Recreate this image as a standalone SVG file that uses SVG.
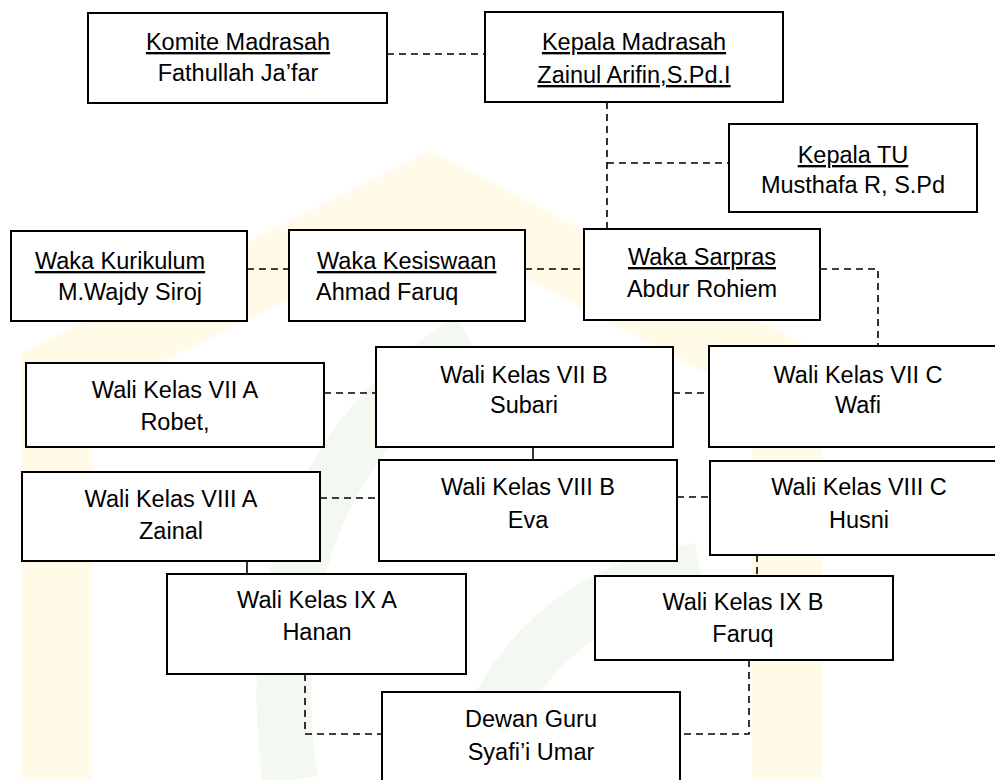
<svg xmlns="http://www.w3.org/2000/svg" width="995" height="780" viewBox="0 0 995 780">
<style>
.box{fill:#fff;stroke:#000;stroke-width:2}
.t{font-family:"Liberation Sans",Arial,sans-serif;font-size:23.5px;fill:#000;text-anchor:middle}
.s{text-anchor:start}
.u{text-decoration:underline}
.dash{fill:none;stroke:#000;stroke-width:1.6;stroke-dasharray:7 5}
.solid{fill:none;stroke:#000;stroke-width:1.6}
.wm-y{fill:none;stroke:#fffbe8;stroke-width:70}
.wm-g{fill:none;stroke:#f3f9f0;stroke-width:55}
</style>
<rect width="995" height="780" fill="#fff"/>
<g id="watermark">
<polyline class="wm-y" points="57,780 57,375 430,190 787,375 787,780"/>
<path class="wm-g" d="M470 340 Q 250 480 290 780"/>
<path class="wm-g" d="M700 570 Q 520 600 470 780"/>
</g>
<g id="connectors">
<path class="dash" d="M387 54 H485"/>
<path class="dash" d="M607 102 V229"/>
<path class="dash" d="M607 163 H729"/>
<path class="dash" d="M247 269 H289"/>
<path class="dash" d="M525 269 H584"/>
<path class="dash" d="M820 269 H878 V346"/>
<path class="dash" d="M324 393 H376"/>
<path class="dash" d="M673 393 H709"/>
<path class="solid" d="M533 447 V460"/>
<path class="dash" d="M320 498 H379"/>
<path class="dash" d="M677 497 H710"/>
<path class="solid" d="M247 561 V574"/>
<path class="dash" d="M757 555 V576"/>
<path class="dash" d="M305 674 V734 H382"/>
<path class="dash" d="M749 660 V734 H680"/>
</g>
<g id="komite">
<rect class="box" x="88" y="13" width="299" height="90"/>
<text class="t u" x="238" y="50">Komite Madrasah</text>
<text class="t" x="238" y="81">Fathullah Ja’far</text>
</g>
<g id="kepala">
<rect class="box" x="485" y="12" width="298" height="90"/>
<text class="t u" x="634" y="50">Kepala Madrasah</text>
<text class="t u" x="634" y="83">Zainul Arifin,S.Pd.I</text>
</g>
<g id="kepala-tu">
<rect class="box" x="729" y="124" width="248" height="88"/>
<text class="t u" x="853" y="163">Kepala TU</text>
<text class="t" x="853" y="193">Musthafa R, S.Pd</text>
</g>
<g id="waka-kurikulum">
<rect class="box" x="11" y="231" width="236" height="90"/>
<text class="t u" x="120" y="269">Waka Kurikulum</text>
<text class="t" x="130" y="300">M.Wajdy Siroj</text>
</g>
<g id="waka-kesiswaan">
<rect class="box" x="289" y="230" width="236" height="91"/>
<text class="t s u" x="317" y="269">Waka Kesiswaan</text>
<text class="t s" x="316" y="300">Ahmad Faruq</text>
</g>
<g id="waka-sarpras">
<rect class="box" x="584" y="229" width="236" height="91"/>
<text class="t u" x="702" y="265">Waka Sarpras</text>
<text class="t" x="702" y="297">Abdur Rohiem</text>
</g>
<g id="wali-7a">
<rect class="box" x="26" y="363" width="298" height="84"/>
<text class="t" x="175" y="398">Wali Kelas VII A</text>
<text class="t" x="175" y="430">Robet,</text>
</g>
<g id="wali-7b">
<rect class="box" x="376" y="347" width="297" height="100"/>
<text class="t" x="524" y="383">Wali Kelas VII B</text>
<text class="t" x="524" y="413">Subari</text>
</g>
<g id="wali-7c">
<rect class="box" x="709" y="346" width="300" height="101"/>
<text class="t" x="858" y="383">Wali Kelas VII C</text>
<text class="t" x="858" y="413">Wafi</text>
</g>
<g id="wali-8a">
<rect class="box" x="22" y="472" width="298" height="89"/>
<text class="t" x="171" y="507">Wali Kelas VIII A</text>
<text class="t" x="171" y="539">Zainal</text>
</g>
<g id="wali-8b">
<rect class="box" x="379" y="460" width="298" height="101"/>
<text class="t" x="528" y="495">Wali Kelas VIII B</text>
<text class="t" x="528" y="528">Eva</text>
</g>
<g id="wali-8c">
<rect class="box" x="710" y="461" width="300" height="94"/>
<text class="t" x="859" y="495">Wali Kelas VIII C</text>
<text class="t" x="859" y="528">Husni</text>
</g>
<g id="wali-9a">
<rect class="box" x="167" y="574" width="299" height="100"/>
<text class="t" x="317" y="608">Wali Kelas IX A</text>
<text class="t" x="317" y="640">Hanan</text>
</g>
<g id="wali-9b">
<rect class="box" x="595" y="576" width="298" height="84"/>
<text class="t" x="743" y="610">Wali Kelas IX B</text>
<text class="t" x="743" y="642">Faruq</text>
</g>
<g id="dewan-guru">
<rect class="box" x="382" y="692" width="298" height="100"/>
<text class="t" x="531" y="727">Dewan Guru</text>
<text class="t" x="531" y="760">Syafi’i Umar</text>
</g>
</svg>
